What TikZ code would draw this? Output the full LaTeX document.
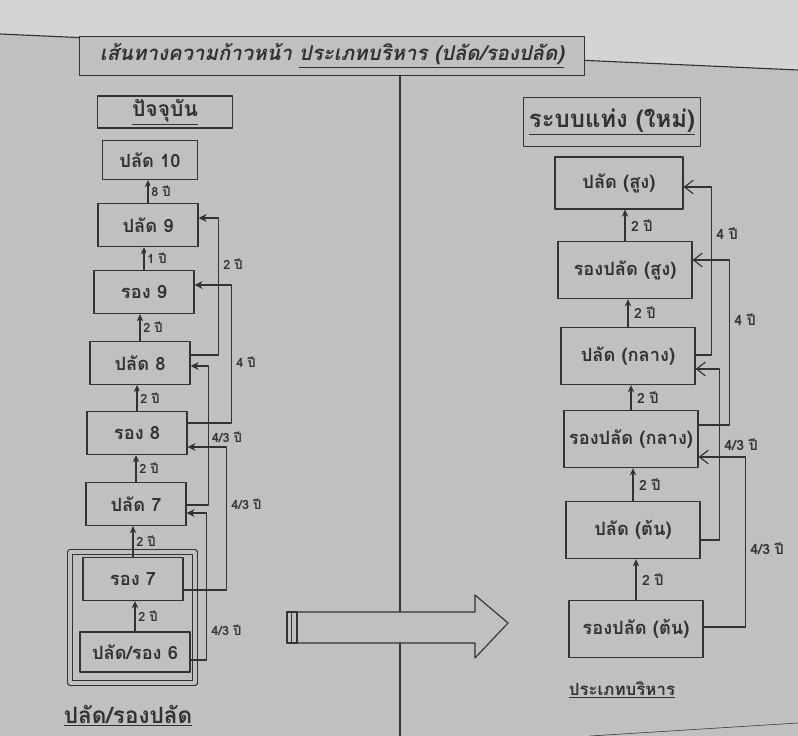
\documentclass[tikz,border=0pt]{standalone}
\usepackage{fontspec}
\newfontfamily\thai[Script=Thai]{Loma}
\usetikzlibrary{arrows.meta,calc}
\definecolor{paper}{RGB}{192,192,190}
\definecolor{paperlight}{RGB}{212,212,210}
\definecolor{ink}{RGB}{50,50,50}
\tikzset{
  box/.style={draw=ink,thick,fill=paper,text=ink,inner sep=1pt,font=\thai\bfseries\fontsize{13}{15}\selectfont},
  lbox/.style={box,minimum width=2.5cm,minimum height=1.075cm},
  rbox/.style={box,minimum width=3.35cm,minimum height=1.43cm},
  head/.style={box,font=\thai\bfseries\fontsize{15}{17}\selectfont},
  climb/.style={draw=ink,thick,-{Stealth[length=1.8mm,width=1.6mm]}},
  link/.style={draw=ink,thick,-{Stealth[length=2mm,width=2mm]}},
  rlink/.style={draw=ink,thick,-{Straight Barb[length=2.2mm,width=3.4mm]}},
  yr/.style={font=\thai\bfseries\fontsize{9}{11}\selectfont,text=ink,inner sep=1pt,fill=paper},
  ryr/.style={yr,font=\thai\bfseries\fontsize{10}{12}\selectfont},
  tag/.style={text=ink,inner sep=1pt,font=\thai\bfseries\fontsize{12}{14}\selectfont},
}
\begin{document}
\begin{tikzpicture}[x=0.025cm,y=-0.025cm,line cap=round,line join=round]
  \useasboundingbox (0,0) rectangle (798,736);
  % paper
  \fill[paper] (0,0) rectangle (798,736);
  \fill[paperlight] (0,0) -- (798,0) -- (798,70) -- (0,34) -- cycle;
  \draw[ink,thick] (0,34) -- (798,70);
  \draw[ink] (590,736) -- (798,723);

  % title and headers
  \node[head,minimum width=12.625cm,minimum height=0.975cm,font=\thai\bfseries\itshape\fontsize{14.5}{16}\selectfont] (title) at (332,56)
    {เส้นทางความก้าวหน้า \underline{ประเภทบริหาร (ปลัด/รองปลัด)}};
  \coordinate (split) at (400,736);
  \draw[ink,thick] (title.south -| split) -- (split);
  \node[head,minimum width=3.375cm,minimum height=0.8cm] (now) at (165,112) {\underline{ปัจจุบัน}};
  \node[head,minimum width=4.425cm,minimum height=1.225cm,font=\thai\bfseries\fontsize{17}{19}\selectfont] (new) at (612,122) {\underline{ระบบแท่ง (ใหม่)}};

  % left column
  \draw[ink,thick,double=paper,double distance=2.5pt] (70,552) rectangle (195,683);
  \node[lbox,minimum width=2.375cm,minimum height=0.975cm] (p10) at (150,160) {ปลัด 10};
  \node[lbox] (p9) at (148,225) {ปลัด 9};
  \node[lbox] (r9) at (144,292) {รอง 9};
  \node[lbox] (p8) at (140,363) {ปลัด 8};
  \node[lbox] (r8) at (137,433) {รอง 8};
  \node[lbox] (p7) at (136,504) {ปลัด 7};
  \node[lbox] (r7) at (133,579) {รอง 7};
  \node[lbox,minimum width=2.75cm,minimum height=1cm] (p6) at (135,652) {ปลัด/รอง 6};
  \foreach \lo/\hi/\yrs in {p9/p10/8 ปี,r9/p9/1 ปี,p8/r9/2 ปี,r8/p8/2 ปี,p7/r8/2 ปี,r7/p7/2 ปี,p6/r7/2 ปี}
    \draw[climb] (\lo.north) coordinate (t) -- (t |- \hi.south) node[yr,midway,right=1pt] {\yrs};

  \draw[link] ($(p8.east)+(0,-8)$) -- ++(28,0) |- node[yr,pos=0.33,right=2pt] {2 ปี} ($(p9.east)+(0,-7)$);
  \draw[link] ($(r8.east)+(0,-10)$) -- ++(44,0) |- node[yr,pos=0.22,right=2pt] {4 ปี} ($(r9.east)+(0,-7)$);
  \draw[link] ($(p7.east)+(0,1)$) -- ++(22,0) |- node[yr,pos=0.245,right=1pt] {4/3 ปี} ($(p8.east)+(0,3)$);
  \draw[link] ($(r7.east)+(0,11)$) -- ++(43,0) |- node[yr,pos=0.3,right=2pt] {4/3 ปี} ($(r8.east)+(0,14)$);
  \draw[link] ($(p6.east)+(0,8)$) -- ++(16,0) |- node[yr,pos=0.1,right=2pt] {4/3 ปี} ($(p7.east)+(0,9)$);
  \node[tag,font=\thai\bfseries\fontsize{16}{18}\selectfont] (oldtype) at (128,716) {\underline{ปลัด/รองปลัด}};

  % transfer arrow
  \draw[ink,thick,fill=paper] (297,612) -- (475,612) -- (475,595) -- (508,623) -- (475,658) -- (475,643) -- (297,643) -- cycle;
  \draw[ink,thick,fill=paper] (287,612) rectangle (297,643);
  \draw[ink] (291,612) -- (291,643);

  % right column
  \node[rbox,minimum width=3.2cm,minimum height=1.3cm] (ps) at (619,183) {ปลัด (สูง)};
  \node[rbox] (rs) at (625,270) {รองปลัด (สูง)};
  \node[rbox] (pm) at (628,356) {ปลัด (กลาง)};
  \node[rbox] (rm) at (631,439) {รองปลัด (กลาง)};
  \node[rbox] (pl) at (633,530) {ปลัด (ต้น)};
  \node[rbox] (rl) at (636,629) {รองปลัด (ต้น)};
  \foreach \lo/\hi in {rs/ps,pm/rs,rm/pm,pl/rm,rl/pl}
    \draw[climb] (\lo.north) coordinate (t) -- (t |- \hi.south) node[ryr,midway,right=3pt] {2 ปี};

  \draw[rlink] ($(pm.east)+(0,-1)$) -- ++(16,0) |- node[ryr,pos=0.36,right=2pt] {4 ปี} ($(ps.east)+(0,4)$);
  \draw[rlink] ($(rm.east)+(0,-14)$) -- ++(31,0) |- node[ryr,pos=0.32,right=2pt] {4 ปี} ($(rs.east)+(0,-10)$);
  \draw[rlink] ($(pl.east)+(0,10)$) -- ++(19,0) |- node[ryr,pos=0.28,right=2pt] {4/3 ปี} ($(pm.east)+(0,13)$);
  \draw[rlink] ($(rl.east)+(0,-2)$) -- ++(42,0) |- node[ryr,pos=0.23,right=2pt] {4/3 ปี} ($(rm.east)+(0,18)$);
  \node[tag] (newtype) at (622,690) {\underline{ประเภทบริหาร}};
\end{tikzpicture}
\end{document}
